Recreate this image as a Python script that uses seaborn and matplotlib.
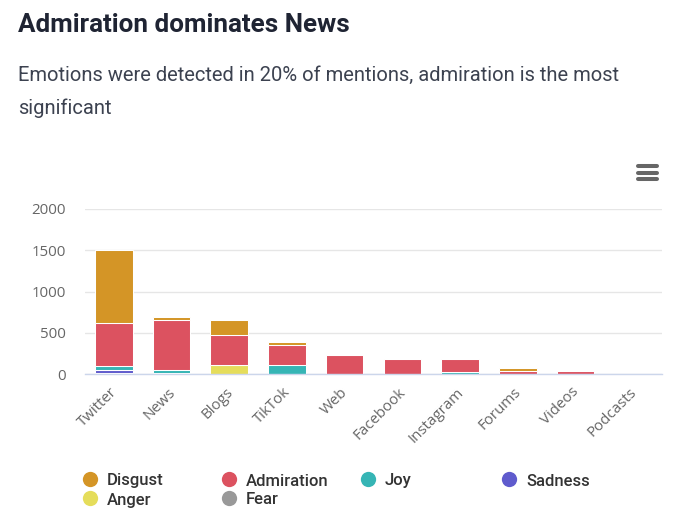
import matplotlib
matplotlib.use("Agg")
import matplotlib.pyplot as plt
from matplotlib.lines import Line2D
from matplotlib.transforms import ScaledTranslation
import numpy as np
import pandas as pd
import seaborn as sns

categories = ["Twitter", "News", "Blogs", "TikTok", "Web", "Facebook", "Instagram", "Forums", "Videos", "Podcasts"]
fear = [8, 3, 0, 0, 0, 0, 0, 0, 0, 0]
anger = [8, 5, 105, 3, 0, 0, 0, 0, 0, 0]
sadness = [27, 7, 0, 2, 0, 0, 0, 0, 0, 0]
joy = [50, 30, 4, 100, 3, 3, 30, 0, 0, 0]
admiration = [520, 610, 365, 250, 227, 179, 152, 35, 36, 2]
disgust = [895, 30, 175, 33, 0, 0, 0, 35, 4, 0]
yticks = [0, 500, 1000, 1500, 2000]

series = [("Fear", fear, "#999999"), ("Anger", anger, "#e5dd5b"), ("Sadness", sadness, "#5f5bcd"),
          ("Joy", joy, "#36b5b5"), ("Admiration", admiration, "#dc5260"), ("Disgust", disgust, "#d49526")]

W, H = 679, 526
sns.set_theme(style="white")
plt.rcParams["font.family"] = ["Roboto", "DejaVu Sans"]
fig = plt.figure(figsize=(W / 100, H / 100), dpi=100, facecolor="white")
ax = fig.add_axes([85 / W, 1 - 374 / H, 577 / W, 165 / H])

df = pd.DataFrame({"category": categories})
bottom = np.zeros(len(categories))
for name, vals, color in series:
    df[name] = vals
    sns.barplot(data=df, x="category", y=name, color=color, saturation=1, width=0.65,
                bottom=bottom, edgecolor="white", linewidth=0.75, alpha=1, ax=ax, zorder=3)
    bottom = bottom + np.array(vals)

ax.set_xlim(-0.5, 9.5)
ax.set_ylim(0, 2000)
ax.set_yticks(yticks)
ax.set_xlabel("")
ax.set_ylabel("")
ax.grid(axis="y", color="#e6e6e6", linewidth=1, zorder=0)
ax.set_axisbelow(True)
for s in ["top", "right", "left"]:
    ax.spines[s].set_visible(False)
ax.spines["bottom"].set_color("#ccd6eb")
ax.spines["bottom"].set_linewidth(1)
ax.spines["bottom"].set_zorder(5)
ax.tick_params(axis="y", length=0, pad=13.5, labelsize=10.8, labelcolor="#666666")
ax.tick_params(axis="x", length=0, pad=7, labelsize=10.8, labelcolor="#666666")
for lab in ax.get_yticklabels():
    lab.set_fontfamily(["Open Sans", "DejaVu Sans"])
shift = ScaledTranslation(-4 / 100, -1 / 100, fig.dpi_scale_trans)
for lab in ax.get_xticklabels():
    lab.set_fontfamily(["Open Sans", "DejaVu Sans"])
    lab.set_rotation(45)
    lab.set_ha("right")
    lab.set_va("top")
    lab.set_rotation_mode("anchor")
    lab.set_transform(lab.get_transform() + shift)

fig.text(18 / W, 1 - 25 / H, "Admiration dominates News", fontsize=18.7, fontweight="bold",
         color="#1f2433", va="center", ha="left")
fig.text(18 / W, 1 - 75 / H, "Emotions were detected in 20% of mentions, admiration is the most",
         fontsize=14.5, color="#3c4250", va="center", ha="left")
fig.text(18 / W, 1 - 108 / H, "significant", fontsize=14.5, color="#3c4250", va="center", ha="left")

# export-menu icon
for py in (166, 173, 179):
    fig.add_artist(Line2D([638 / W, 657 / W], [1 - py / H] * 2, color="#666666", linewidth=2.9,
                          solid_capstyle="round"))

# legend
legend_items = [("Disgust", "#d49526", 82, 481), ("Admiration", "#dc5260", 221, 481), ("Joy", "#36b5b5", 360, 481),
                ("Sadness", "#5f5bcd", 501, 481), ("Anger", "#e5dd5b", 82, 500), ("Fear", "#999999", 221, 500)]
for name, color, px, py in legend_items:
    fig.add_artist(Line2D([(px + 8) / W], [1 - (py - 2) / H], marker="o", markersize=11, color=color,
                          markeredgewidth=0, linestyle="none"))
    fig.text((px + 25) / W, 1 - py / H, name, fontsize=12, color="#333333", va="center", ha="left",
             fontweight="medium")

fig.savefig("out.png", dpi=100, facecolor="white")
